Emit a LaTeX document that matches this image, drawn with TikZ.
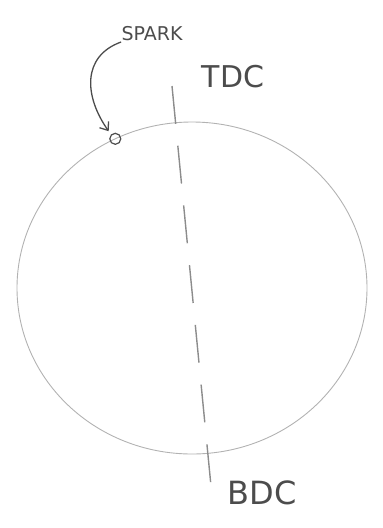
\documentclass[tikz,border=0pt]{standalone}
\usepackage{fontspec}
\setmainfont{DejaVu Sans}
\usetikzlibrary{arrows.meta}

\begin{document}
\begin{tikzpicture}[x=1pt, y=-1pt, thick,
    every node/.style={inner sep=0pt, text=black!70},
    rim/.style={black!30, line width=0.9pt},
    axisline/.style={black!45, line width=1.4pt, dash pattern=on 38pt off 22pt},
    pointer/.style={black!70, line width=1.3pt, -{Straight Barb[length=7pt, width=11pt]}}]
  \useasboundingbox (0,0) rectangle (383,528);
  % cylinder bore
  \coordinate (centre) at (192,288);
  \draw[rim] (centre) ellipse [x radius=175, y radius=166];
  % dead centre axis
  \coordinate (top) at (172,86);
  \coordinate (bot) at (211,486);
  \draw[axisline] (top) -- (bot);
  % labels
  \node (tdc) at (233,77) {\fontsize{30}{30}\selectfont TDC};
  \node (bdc) at (262,493) {\fontsize{32}{32}\selectfont BDC};
  \node (sparklbl) at (152,34) {\fontsize{19}{19}\selectfont SPARK};
  \node[circle, draw=black!70, line width=1.2pt, minimum size=11pt] (spark) at ([shift={(-116:175 and 166)}]centre) {};
  \draw[pointer, shorten >=4pt] ([yshift=-8pt]sparklbl.west) .. controls (82,56) and (84,96) .. (spark.north west);
\end{tikzpicture}
\end{document}
